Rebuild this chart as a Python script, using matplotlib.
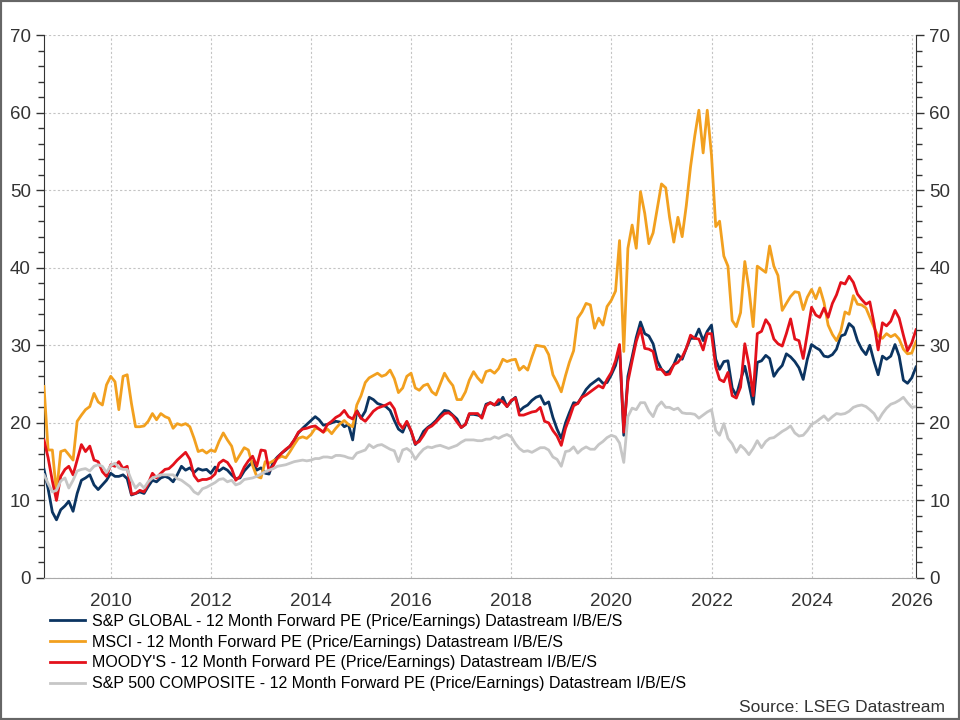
import matplotlib
matplotlib.use('Agg')
import matplotlib.pyplot as plt
import matplotlib.dates as mdates
from matplotlib.ticker import MultipleLocator
from matplotlib.patches import Rectangle
import pandas as pd

plt.rcParams['font.family'] = ['Liberation Sans', 'DejaVu Sans']

# monthly, Sep 2008 .. Feb 2026
dates = pd.date_range('2008-09-01', periods=210, freq='MS')

sp_global = [
    14, 11.5, 8.5, 7.5,
    8.8, 9.3, 9.9, 8.6, 10.9, 12.6, 12.9, 13.3, 12, 11.4, 12, 12.6,
    13.5, 13.1, 13.1, 13.3, 12.8, 10.7, 10.9, 11.1, 10.9, 11.8, 12.6, 12.4,
    12.9, 13.1, 12.9, 12.4, 13.3, 14.4, 13.9, 14.2, 13.6, 14.1, 13.9, 14,
    13.5, 14.3, 13.8, 14.2, 13.9, 13.3, 12.8, 12.9, 13.8, 14.4, 15, 13.9,
    14.2, 13.5, 13.4, 15, 15.6, 16.1, 16.5, 17, 17.8, 18.7, 19.3, 19.8,
    20.3, 20.8, 20.4, 19.7, 19.8, 20, 20.2, 20.1, 19.5, 19.8, 17.8, 21.6,
    20.6, 21.5, 23.3, 23, 22.5, 22.3, 22.1, 21.6, 20.3, 19.2, 18.8, 20.1,
    18.9, 17.2, 17.8, 18.9, 19.4, 19.8, 20.3, 21, 21.6, 21.5, 21, 20.5,
    19.4, 19.8, 21.1, 21.1, 21, 20.8, 22.4, 22.6, 22.3, 22.4, 23.3, 22.1,
    22.8, 23.3, 21.5, 22, 22.3, 22.9, 23.3, 23.5, 22.4, 22.7, 20.7, 19.2,
    18, 20, 21.3, 22.6, 22.5, 23.4, 24.3, 24.9, 25.3, 25.7, 25.1, 25.2,
    26.2, 27.4, 29.8, 18.4, 26, 28.5, 31, 33, 31.5, 31.2, 30.2, 28,
    26.9, 26.4, 26.7, 27.5, 28.8, 28.2, 29.6, 30.9, 30.9, 32.1, 30.6, 31.8,
    32.6, 28.2, 26.9, 27.9, 28, 24.5, 23.5, 25.5, 27.3, 25, 22.4, 27.8,
    28, 28.7, 28.3, 26, 26.8, 27.4, 28.9, 28.5, 27.9, 27.1, 25.6, 28.2,
    30.1, 29.7, 29.4, 28.6, 28.5, 28.8, 29.5, 31.2, 31.4, 32.8, 32.3, 30.6,
    29.5, 28.8, 30, 27.9, 26.2, 28.6, 28.2, 28.6, 30.1, 28.6, 25.5, 25.1,
    25.8, 27.2,
]

msci = [
    24.7, 16.5, 16.5, 11,
    16.3, 16.5, 15.9, 15.2, 20.2, 21, 21.7, 22.1, 23.8, 22.7, 22.3, 24.9,
    26, 25.3, 21.7, 26, 26.2, 22.5, 19.5, 19.5, 19.6, 20.2, 21.2, 20.4,
    21.2, 20.8, 20.6, 19.3, 19.9, 19.7, 19.9, 19.5, 18, 16.3, 16.5, 16.1,
    16.5, 16.3, 17.6, 18.7, 17.8, 17, 15, 15.9, 16.8, 16.5, 14.5, 13.1,
    12.9, 15, 14.8, 15.1, 15.4, 15.7, 15.5, 16.3, 17.2, 18, 18.2, 18,
    18.5, 19.3, 19.2, 18.8, 19.2, 18.6, 19.3, 19.9, 20.3, 19.8, 19.5, 22.3,
    23.5, 25.2, 25.8, 26.1, 26.4, 26, 26.2, 26.8, 25.7, 23.9, 24.5, 26,
    26.4, 24.5, 24.2, 24.8, 25, 24, 23.6, 25, 26.4, 25.5, 24.8, 23,
    23, 24, 25.5, 26.6, 25.8, 25.2, 26.6, 26.8, 26.4, 27, 28.2, 27.9,
    28.1, 28.2, 26.8, 27.3, 26.8, 28.5, 30, 29.9, 29.8, 28.8, 26.2, 25.2,
    24, 26.1, 27.8, 29.3, 33.5, 34.3, 35.4, 35.2, 32.2, 33.5, 32.6, 35,
    35.8, 37, 43.5, 29.2, 42.5, 45.5, 42.5, 49.8, 47, 43.1, 44.5, 47.6,
    50.8, 50.3, 46.5, 43.3, 46.5, 44, 48, 53, 57, 60.3, 54.8, 60.3,
    54.5, 45.3, 46, 41.5, 40.2, 33.2, 32.4, 34.2, 40.8, 37.3, 32.4, 40.2,
    39.8, 39.4, 42.8, 40.2, 39, 34.5, 35.4, 36.3, 36.9, 36.8, 34.6, 36.2,
    37.2, 36, 37.4, 35.5, 32.6, 31.4, 30.6, 31.8, 34.3, 34, 36.4, 35.3,
    35.2, 34.8, 33.6, 32.3, 31.2, 30.9, 31.5, 31.1, 31.4, 30.8, 29.5, 28.9,
    29, 30.5,
]

moodys = [
    17.8, 15.5, 12.5, 10,
    13.1, 14, 14.4, 13.3, 15.2, 17.2, 16.3, 17, 15.2, 15, 13.7, 13.1,
    14.6, 14.4, 15, 14.1, 14.4, 10.8, 10.9, 11.3, 11.1, 12.2, 13.5, 12.9,
    13.5, 14, 14.1, 14.6, 15.2, 15.7, 16.2, 15.3, 13.2, 12.5, 12.7, 12.7,
    12.9, 13.4, 14.8, 15.2, 14.9, 14.1, 12.6, 13.1, 14.3, 15.1, 15.7, 14.4,
    16.5, 16.4, 13.8, 14.5, 15.5, 16.1, 16.6, 17, 17.8, 18.8, 19.2, 19.3,
    19.5, 19.6, 19.2, 18.8, 19.8, 20.2, 20.7, 21, 21.6, 20.8, 20.5, 21.5,
    20.6, 20.2, 20.8, 21.5, 21.9, 22.1, 22.3, 22.6, 21.8, 20, 19.3, 20.2,
    19, 17.3, 17.6, 18.4, 19.3, 19.6, 20.1, 20.7, 21.2, 21.3, 20.9, 20.1,
    19.4, 19.8, 21.2, 21.2, 21.2, 20.6, 22.2, 22.6, 22.3, 23, 22.7, 22.1,
    22.9, 23.2, 21, 21, 21.2, 21.4, 21.5, 22, 20.2, 20, 19, 18.3,
    17.1, 19.3, 20.6, 22.2, 22.5, 23.3, 23.6, 24, 24.4, 24.8, 24.5, 25.6,
    26.5, 28, 30.1, 18.8, 25.3, 28, 30.5, 32.2, 29.6, 29.5, 29.2, 26.9,
    26.9, 26.2, 26.3, 27.5, 27.8, 28.5, 29.6, 31.3, 30.9, 30.8, 29.4, 31.5,
    31.5, 27.2, 25.6, 25.3, 26.5, 23.5, 23.2, 24.6, 30.2, 27.5, 23.5, 31.5,
    31.8, 33.3, 32.6, 30.8, 30.2, 29.9, 31.5, 33.4, 30.8, 30.6, 28.3, 31.5,
    34.9, 33.9, 33.6, 34.8, 33.6, 35.4, 36.5, 38.1, 37.9, 38.9, 38.1, 36.6,
    35.9, 35.3, 35.6, 32.8, 29.4, 32.9, 32.5, 33.1, 34.5, 33.5, 31.3, 29.3,
    30.3, 32,
]

sp500 = [
    13.3, 12.2, 11.1, 11.3,
    12.5, 12.9, 11.6, 12.6, 13.8, 14, 14.1, 13.8, 14.4, 14.6, 14.4, 13.6,
    14.5, 14.8, 14.2, 14, 14, 12.6, 11.6, 12.2, 11.6, 12.4, 12.9, 13.1,
    13.3, 13.3, 13.3, 13.3, 12.8, 12.6, 12.2, 11.8, 11.1, 10.8, 11.5, 11.7,
    12, 12.3, 12.7, 12.8, 12.4, 12.6, 12, 12.2, 12.7, 12.8, 12.9, 13.1,
    13.4, 13.7, 13.9, 14.1, 14.4, 14.5, 14.6, 14.8, 15, 15.1, 15.2, 15.1,
    15.2, 15.4, 15.4, 15.6, 15.6, 15.5, 15.8, 15.8, 15.7, 15.5, 15.4, 16.1,
    16.3, 16.5, 17.2, 16.8, 17.1, 17.2, 16.9, 16.6, 16.4, 15, 16.5, 16.7,
    16.3, 15.3, 16, 16.6, 16.9, 16.8, 17, 17.1, 16.9, 16.7, 16.9, 17.1,
    17.5, 17.8, 17.8, 17.8, 17.7, 17.7, 17.9, 17.9, 18.2, 18, 18.3, 18.5,
    18.2, 17.3, 16.7, 16.3, 16.4, 16.2, 16.5, 16.8, 16.8, 16.5, 15.6, 15.3,
    14.4, 16.3, 16.4, 16.9, 16.1, 16.6, 16.9, 16.6, 16.6, 17.2, 17.6, 18.1,
    18.4, 18.2, 17.4, 14.9, 20.8, 21.9, 21.7, 22.6, 22.6, 21.5, 20.8, 22.1,
    22.7, 22, 22, 21.7, 21.9, 21.3, 21.2, 21.2, 21.1, 20.6, 21, 21.4,
    21.7, 19, 18.4, 19.9, 18, 17.3, 16.2, 17.1, 16.6, 15.9, 16.7, 17.7,
    16.8, 17.6, 18, 18.1, 18.5, 18.9, 19.2, 19.6, 18.7, 18.3, 18.4, 19,
    19.8, 20.1, 20.5, 20.9, 20.3, 20.8, 21.2, 21.1, 21.2, 21.5, 22, 22.2,
    22.3, 22.1, 21.7, 21.2, 20.3, 21.2, 21.9, 22.4, 22.6, 22.9, 23.3, 22.6,
    22, 22.1,
]

labels = [
    'S&P GLOBAL - 12 Month Forward PE (Price/Earnings) Datastream I/B/E/S',
    'MSCI - 12 Month Forward PE (Price/Earnings) Datastream I/B/E/S',
    "MOODY'S - 12 Month Forward PE (Price/Earnings) Datastream I/B/E/S",
    'S&P 500 COMPOSITE - 12 Month Forward PE (Price/Earnings) Datastream I/B/E/S',
]
colors = ['#0b3461', '#f2a01f', '#e3111b', '#c6c6c6']
series = [sp_global, msci, moodys, sp500]

fig = plt.figure(figsize=(9.6, 7.2), dpi=100)
ax = fig.add_axes([44 / 960, 1 - 578 / 720, 872 / 960, 543 / 720])

for i, (s, lab, c) in enumerate(zip(series, labels, colors)):
    ax.plot(dates, s, color=c, lw=2.0, label=lab, zorder=3 + i)

ax.set_xlim(dates[0], dates[-1])
ax.set_ylim(0, 70)
ax.yaxis.set_major_locator(MultipleLocator(10))
ax.yaxis.set_minor_locator(MultipleLocator(2))
ax.xaxis.set_major_locator(mdates.YearLocator(2))
ax.xaxis.set_major_formatter(mdates.DateFormatter('%Y'))

ax.grid(True, which='major', color='#c4c4c4', linestyle=(0, (2, 2)), lw=0.8)
ax.tick_params(axis='y', which='both', left=True, right=True,
               labelleft=True, labelright=True, direction='out',
               colors='#333333', labelsize=13.5)
ax.tick_params(axis='y', which='major', length=6, width=1)
ax.tick_params(axis='y', which='minor', length=4, width=1)
ax.tick_params(axis='x', length=0, pad=11, colors='#333333', labelsize=13.5)

ax.spines['top'].set_visible(False)
ax.spines['bottom'].set_color('#aaaaaa')
ax.spines['left'].set_color('#333333')
ax.spines['right'].set_color('#333333')

fig.legend(loc='upper left', bbox_to_anchor=(50 / 960, 1 - 614 / 720),
           frameon=False, fontsize=11.5, handlelength=2.2, handletextpad=0.45,
           labelspacing=0.36, borderpad=0, borderaxespad=0)

fig.text(945 / 960, 1 - 707 / 720, 'Source: LSEG Datastream', ha='right',
         va='center', fontsize=12.5, color='#333333')

fig.add_artist(Rectangle((0, 0), 1, 1, transform=fig.transFigure, fill=False,
                         edgecolor='#666666', lw=3))

fig.savefig('out.png', dpi=100)
